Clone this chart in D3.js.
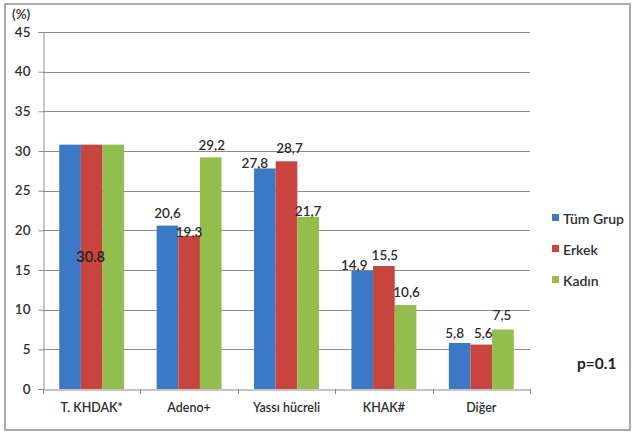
<!DOCTYPE html>
<html>
<head>
<meta charset="utf-8">
<script src="https://cdn.jsdelivr.net/npm/d3@7/dist/d3.min.js"></script>
<style>
  html, body { margin: 0; padding: 0; background: #fff; }
  svg { display: block; }
  text { font-family: Lato, "Open Sans", "Liberation Sans", sans-serif; }
</style>
</head>
<body>
<svg id="chart" width="632" height="433"></svg>
<script>
// Histological subtype distribution (%) by group
const categories = ["T. KHDAK*", "Adeno+", "Yassı hücreli", "KHAK#", "Diğer"];
const seriesNames = ["Tüm Grup", "Erkek", "Kadın"];
const tumGrup = [30.8, 20.6, 27.8, 14.9, 5.8];
const erkek   = [30.8, 19.3, 28.7, 15.5, 5.6];
const kadin   = [30.8, 29.2, 21.7, 10.6, 7.5];
const yTicks  = [0, 5, 10, 15, 20, 25, 30, 35, 40, 45];
const pNote   = "p=0.1";

// Value-label nudges [dx, dy] from each bar's top centre; null = no label
const labelNudge = [
  [null, null, null],
  [[0, -13], [0, -4], [1, -12]],
  [[-10, -5], [3, -13], [0, -6]],
  [[-8, -6], [1, -11], [1, -13]],
  [[-5, -10], [2, -12], [-1, -15]]
];

const seriesValues = [tumGrup, erkek, kadin];
const colors = ["#3d78c6", "#c8443f", "#93bd4c"];
const textColor = "#2e2e2e";

const svg = d3.select("#chart");

// outer frame
svg.append("rect")
  .attr("x", 5).attr("y", 4).attr("width", 625).attr("height", 426)
  .attr("fill", "none").attr("stroke", "#a9a9a9").attr("stroke-width", 2);

const plot = { left: 43, right: 530, top: 32, bottom: 389 };

const x = d3.scaleBand().domain(categories).range([plot.left, plot.right]).padding(0);
const xs = d3.scaleBand().domain(seriesNames)
  .range([x.bandwidth() / 6, x.bandwidth() * 5 / 6]).padding(0);
const y = d3.scaleLinear().domain([0, 45]).range([plot.bottom, plot.top]);

// gridlines
svg.append("g")
  .selectAll("line")
  .data(yTicks.filter(t => t > 0))
  .join("line")
  .attr("x1", plot.left).attr("x2", plot.right)
  .attr("y1", d => Math.round(y(d)) + 0.5).attr("y2", d => Math.round(y(d)) + 0.5)
  .attr("stroke", "#8c8c8c").attr("stroke-width", 1);

// y axis
const yAxis = svg.append("g")
  .attr("transform", `translate(${plot.left + 0.5},0)`)
  .call(d3.axisLeft(y).tickValues(yTicks).tickSize(5).tickPadding(8));
yAxis.select(".domain").attr("stroke", "#8c8c8c");
yAxis.selectAll(".tick line").attr("stroke", "#8c8c8c");
yAxis.selectAll(".tick text")
  .attr("fill", textColor).style("font-size", "13.5px").style("font-weight", "600")
  .attr("font-family", null);

svg.append("text")
  .attr("x", 12).attr("y", 19)
  .attr("fill", textColor).style("font-size", "13.5px").style("font-weight", "600")
  .text("(%)");

// bars
const groups = svg.append("g").selectAll("g")
  .data(categories)
  .join("g")
  .attr("transform", d => `translate(${x(d)},0)`);

groups.selectAll("rect")
  .data((c, ci) => seriesNames.map((s, si) => ({ s, si, ci, v: seriesValues[si][ci] })))
  .join("rect")
  .attr("x", d => xs(d.s))
  .attr("width", xs.bandwidth())
  .attr("y", d => y(d.v))
  .attr("height", d => y(0) - y(d.v))
  .attr("fill", d => colors[d.si]);

// x axis
const xAxis = svg.append("g")
  .attr("transform", `translate(0,${plot.bottom + 0.5})`)
  .call(d3.axisBottom(x).tickSize(0).tickPadding(14));
xAxis.select(".domain").attr("stroke", "#8c8c8c");
xAxis.selectAll(".tick text")
  .attr("fill", textColor).style("font-size", "12.5px").style("font-weight", "600")
  .attr("font-family", null);
// category separators
svg.append("g").selectAll("line")
  .data(d3.range(categories.length + 1))
  .join("line")
  .attr("x1", i => Math.round(plot.left + i * x.step()) + 0.5)
  .attr("x2", i => Math.round(plot.left + i * x.step()) + 0.5)
  .attr("y1", plot.bottom).attr("y2", plot.bottom + 5)
  .attr("stroke", "#8c8c8c");

// value labels
const fmt = v => d3.format(".1f")(v).replace(".", ",");
const labels = [];
categories.forEach((c, ci) => {
  seriesNames.forEach((s, si) => {
    const n = labelNudge[ci][si];
    if (!n) return;
    const v = seriesValues[si][ci];
    labels.push({
      x: x(c) + xs(s) + xs.bandwidth() / 2 + n[0],
      y: y(v) + n[1],
      t: fmt(v)
    });
  });
});
svg.append("g").selectAll("text")
  .data(labels)
  .join("text")
  .attr("x", d => d.x).attr("y", d => d.y)
  .attr("text-anchor", "middle").attr("dominant-baseline", "central")
  .attr("fill", textColor).style("font-size", "13.5px").style("font-weight", "600")
  .text(d => d.t);

// shared label for the first group, set inside the middle bar
svg.append("text")
  .attr("x", x(categories[0]) + xs(seriesNames[1]) + xs.bandwidth() / 2 - 1)
  .attr("y", y(erkek[0] / 2) - 10)
  .attr("text-anchor", "middle").attr("dominant-baseline", "central")
  .attr("fill", "#222").style("font-size", "14.5px").style("font-weight", "600")
  .text(String(erkek[0]));

// legend
const legend = svg.append("g").selectAll("g")
  .data(seriesNames)
  .join("g")
  .attr("transform", (d, i) => `translate(552,${218 + i * 31})`);
legend.append("rect")
  .attr("x", 0).attr("y", -4).attr("width", 7).attr("height", 7)
  .attr("fill", (d, i) => colors[i]);
legend.append("text")
  .attr("x", 11).attr("y", 0).attr("dominant-baseline", "central")
  .attr("fill", textColor).style("font-size", "14px").style("font-weight", "600")
  .text(d => d);

svg.append("text")
  .attr("x", 577).attr("y", 363).attr("dominant-baseline", "central")
  .attr("fill", "#222").style("font-size", "15.5px").style("font-weight", "bold")
  .text(pNote);
</script>
</body>
</html>
